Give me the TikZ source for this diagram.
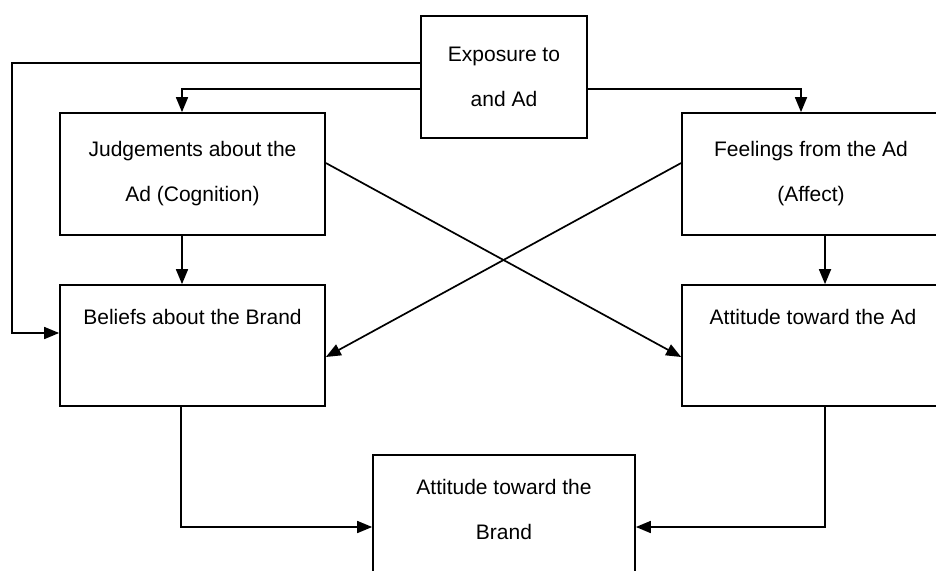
\documentclass[tikz,border=0pt]{standalone}
\usepackage{fontspec}
\setmainfont{Liberation Sans}
\usetikzlibrary{arrows.meta,positioning}

\begin{document}
\begin{tikzpicture}[x=1pt,y=-1pt,
		box/.style={draw,line width=1.7pt,rectangle,inner sep=0pt,align=center,
			font=\fontsize{21}{45}\selectfont},
		txt/.style={inner sep=0pt,font=\fontsize{21}{45}\selectfont},
		arr/.style={line width=1.7pt,-{Triangle[length=15pt,width=12pt]}}]
		
		\useasboundingbox (0,0) rectangle (936,570);
		
		\node[box,minimum width=166pt,minimum height=122pt] (expo) at (504,77) {Exposure to\\and Ad};
		\node[box,minimum width=265pt,minimum height=122pt] (judge) at (192.5,174) {Judgements about the\\Ad (Cognition)};
		\node[box,minimum width=258pt,minimum height=122pt] (feel) at (811,174) {Feelings from the Ad\\(Affect)};
		\node[box,minimum width=265pt,minimum height=121pt] (belief) at (192.5,345.5) {};
		\node[box,minimum width=258pt,minimum height=121pt] (attad) at (811,345.5) {};
		\node[box,minimum width=262pt,minimum height=120pt] (brand) at (504,515) {};
		
		\node[txt] (belief-txt) at ([yshift=-33pt]belief.north) {Beliefs about the Brand};
		\node[txt] (attad-txt) at ([yshift=-33pt,xshift=2pt]attad.north) {Attitude toward the Ad};
		\node[txt,align=center] (brand-txt) at ([yshift=-55pt]brand.north) {Attitude toward the\\Brand};
		
		\coordinate (bend) at (12,63);
		
		\draw[arr] ([yshift=14pt]expo.west) -- (bend) |- ([yshift=12.5pt]belief.west);
		\draw[arr] ([yshift=-12pt]expo.west) -| ([xshift=-10.5pt]judge.north);
		\draw[arr] ([yshift=-12pt]expo.east) -| ([xshift=-10pt]feel.north);
		\draw[arr] ([xshift=-10.5pt]judge.south) -- ([xshift=-10.5pt]belief.north);
		\draw[arr] ([xshift=14pt]feel.south) -- ([xshift=14pt]attad.north);
		\draw[arr] ([yshift=11pt]judge.east) -- ([yshift=-11.5pt]attad.west);
		\draw[arr] ([yshift=11pt]feel.west) -- ([yshift=-11.5pt]belief.east);
		\draw[arr] ([xshift=-11.5pt]belief.south) |- ([yshift=-12pt]brand.west);
		\draw[arr] ([xshift=14pt]attad.south) |- ([yshift=-12pt]brand.east);
		
	\end{tikzpicture}
\end{document}
